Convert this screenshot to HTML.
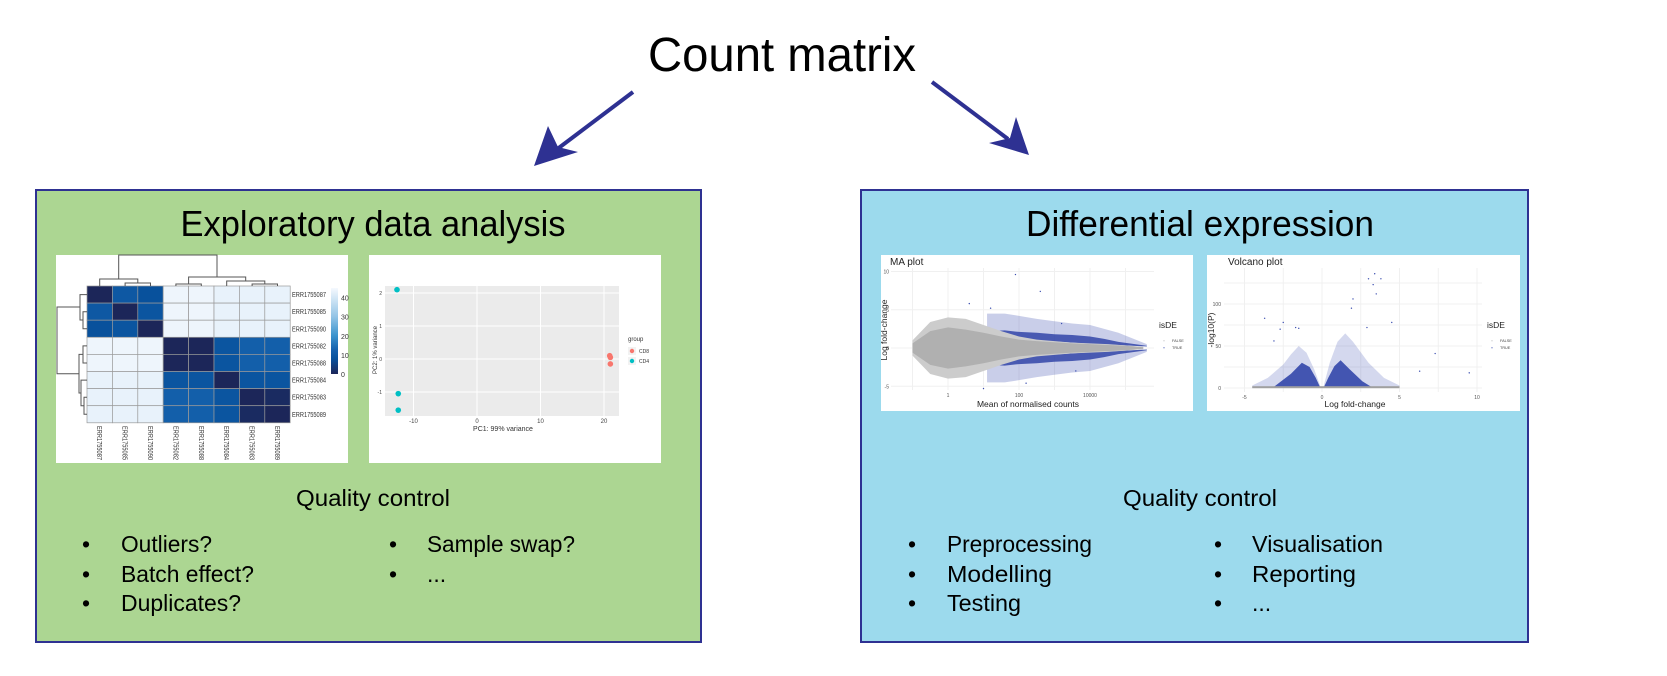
<!DOCTYPE html>
<html><head><meta charset="utf-8">
<style>
html,body{margin:0;padding:0;background:#fff;}
svg{display:block;font-family:"Liberation Sans",Arial,sans-serif;}
</style></head>
<body>
<svg id="root" width="1667" height="676" viewBox="0 0 1667 676" xmlns="http://www.w3.org/2000/svg">
  <text x="782" y="71" font-size="48" text-anchor="middle" textLength="268" lengthAdjust="spacingAndGlyphs">Count matrix</text>
  <g fill="#2e3192" stroke="#2e3192">
    <line x1="633" y1="92" x2="556" y2="150" stroke-width="4"/>
    <polygon points="534,166 548,126 558,147 578,152" stroke="none"/>
  </g>
  <g fill="#2e3192" stroke="#2e3192">
    <line x1="932" y1="82" x2="1008" y2="139" stroke-width="4"/>
    <polygon points="1029,155 989,143 1010,138 1016,117" stroke="none"/>
  </g>

  <rect x="36" y="190" width="665" height="452" fill="#acd692" stroke="#2e3192" stroke-width="2"/>
  <text x="373" y="236" font-size="36" text-anchor="middle" textLength="385" lengthAdjust="spacingAndGlyphs">Exploratory data analysis</text>
  <rect x="56" y="255" width="292" height="208" fill="#fff"/>
  <g id="heatmap"></g>
  <rect x="369" y="255" width="292" height="208" fill="#fff"/>
  <g id="pca"></g>
  <text x="373" y="506" font-size="23" text-anchor="middle" textLength="154" lengthAdjust="spacingAndGlyphs">Quality control</text>
  <g font-size="23">
    <text x="82" y="552">•</text><text x="121" y="552" textLength="91" lengthAdjust="spacingAndGlyphs">Outliers?</text>
    <text x="82" y="582">•</text><text x="121" y="582" textLength="133" lengthAdjust="spacingAndGlyphs">Batch effect?</text>
    <text x="82" y="611">•</text><text x="121" y="611" textLength="120" lengthAdjust="spacingAndGlyphs">Duplicates?</text>
    <text x="389" y="552">•</text><text x="427" y="552" textLength="148" lengthAdjust="spacingAndGlyphs">Sample swap?</text>
    <text x="389" y="582">•</text><text x="427" y="582">...</text>
  </g>

  <rect x="861" y="190" width="667" height="452" fill="#9cdaed" stroke="#2e3192" stroke-width="2"/>
  <text x="1200" y="236" font-size="36" text-anchor="middle" textLength="348" lengthAdjust="spacingAndGlyphs">Differential expression</text>
  <rect x="881" y="255" width="312" height="156" fill="#fff"/>
  <g id="ma"></g>
  <rect x="1207" y="255" width="313" height="156" fill="#fff"/>
  <g id="volcano"></g>
  <text x="1200" y="506" font-size="23" text-anchor="middle" textLength="154" lengthAdjust="spacingAndGlyphs">Quality control</text>
  <g font-size="23">
    <text x="908" y="552">•</text><text x="947" y="552" textLength="145" lengthAdjust="spacingAndGlyphs">Preprocessing</text>
    <text x="908" y="582">•</text><text x="947" y="582" textLength="105" lengthAdjust="spacingAndGlyphs">Modelling</text>
    <text x="908" y="611">•</text><text x="947" y="611" textLength="74" lengthAdjust="spacingAndGlyphs">Testing</text>
    <text x="1214" y="552">•</text><text x="1252" y="552" textLength="131" lengthAdjust="spacingAndGlyphs">Visualisation</text>
    <text x="1214" y="582">•</text><text x="1252" y="582" textLength="104" lengthAdjust="spacingAndGlyphs">Reporting</text>
    <text x="1214" y="611">•</text><text x="1252" y="611">...</text>
  </g>
</svg>
<script>
const NS = "http://www.w3.org/2000/svg";
// ---- Heatmap data ----
const hmSamples = ["ERR1755087","ERR1755085","ERR1755090","ERR1755082","ERR1755088","ERR1755084","ERR1755083","ERR1755089"];
const hmRow0 = [0,10,8,44,44,43,43,43];
const hmRow1 = [10,0,9,44,44,43,43,43];
const hmRow2 = [8,9,0,44,44,43,43,43];
const hmRow3 = [44,44,44,0,0,9,12,12];
const hmRow4 = [44,44,44,0,0,9,12,12];
const hmRow5 = [43,43,43,9,9,0,9,9];
const hmRow6 = [43,43,43,12,12,9,0,1];
const hmRow7 = [43,43,43,12,12,9,1,0];
const hmScaleTicks = [0,10,20,30,40];
// ---- PCA data ----
const pcaX = [-12.6,-12.4,-12.4,20.9,21.0,21.0];
const pcaY = [2.1,-1.05,-1.55,0.1,0.05,-0.15];
const pcaGroup = ["CD4","CD4","CD4","CD8","CD8","CD8"];
const pcaXTicks = [-10,0,10,20];
const pcaYTicks = [-1,0,1,2];
// ---- MA plot data ----
const maBins = [-1.0,-0.5,0,0.5,1.0,1.5,2.0,2.5,3.0,3.5,4.0,4.5,5.0,5.5];
const maGrayCore = [0.6,2.2,2.7,2.4,2.0,1.5,1.1,0.9,0.75,0.6,0.5,0.4,0.3,0.1];
const maGrayHalo = [1.0,3.4,4.0,3.8,3.0,2.2,1.5,1.1,0.9,0.7,0.6,0.5,0.35,0.15];
const maBlueBins = [1.1,1.6,2.0,2.5,3.0,3.5,4.0,4.4,4.8,5.6];
const maBlueInner = [1.8,1.5,1.2,1.0,0.85,0.7,0.55,0.45,0.4,0.2];
const maBlueBand = [2.2,2.3,2.1,2.0,1.8,1.7,1.5,1.2,0.8,0.3];
const maBlueOuter = [4.5,4.5,4.2,3.8,3.5,3.2,3.0,2.5,2.0,0.5];
const maOutX = [1.9,2.6,0.6,1.2,3.2,2.2,1.0,3.6];
const maOutY = [9.6,7.4,5.8,5.2,3.2,-4.6,-5.3,-3.0];
const maXTicks = [1,100,10000];
const maYTicks = [-5,0,5,10];
// ---- Volcano data ----
const vcHaloLfc = [-4.5,-3.5,-2.5,-2,-1.5,-1,-0.5,-0.1];
const vcHaloH = [3,12,28,40,50,42,22,2];
const vcCoreLfc = [-3.2,-2,-1.3,-0.8,-0.4,-0.1];
const vcCoreH = [0,17,30,25,12,0];
const vcHaloLfcR = [0.1,0.5,1,1.5,2,3,4,5];
const vcHaloHR = [2,30,55,65,55,30,12,3];
const vcCoreLfcR = [0.1,0.4,0.8,1.2,1.8,2.6,3.3];
const vcCoreHR = [0,12,26,33,22,8,0];
const vcOutX = [-3.7,-2.5,-2.7,-1.7,-1.5,-3.1,3.0,3.3,3.8,3.4,2.0,1.9,3.5,2.9,4.5,7.3,9.5,6.3];
const vcOutY = [83,78,70,72,71,56,130,123,130,136,106,95,112,72,78,41,18,20];
const vcXTicks = [-5,0,5,10];
const vcYTicks = [0,50,100];

function mk(tag, attrs, parent){
  const e = document.createElementNS(NS, tag);
  for (const k in attrs) e.setAttribute(k, attrs[k]);
  parent.appendChild(e);
  return e;
}
function lerpColor(v){
  const st=[[0,[28,38,89]],[8,[8,81,156]],[13,[22,99,174]],[20,[58,147,205]],[30,[147,196,230]],[45,[245,249,254]]];
  for(let i=1;i<st.length;i++){ if(v<=st[i][0]){const a=st[i-1],b=st[i];const t=(v-a[0])/(b[0]-a[0]);
    return "rgb("+a[1].map((c,j)=>Math.round(c+(b[1][j]-c)*t)).join(",")+")";}}
  return "rgb(245,249,254)";
}
// ---- Heatmap ----
(function(){
  const g=document.getElementById("heatmap");
  const rows=[hmRow0,hmRow1,hmRow2,hmRow3,hmRow4,hmRow5,hmRow6,hmRow7];
  const x0=87,y0=286,cw=25.4,ch=17.1;
  rows.forEach((row,i)=>row.forEach((v,j)=>{
    const r=mk("rect",{x:x0+j*cw,y:y0+i*ch,width:cw,height:ch,fill:lerpColor(v),stroke:"#9a9a9a","stroke-width":0.7},g);
    
    
  }));
  hmSamples.forEach((s,i)=>{
    const t=mk("text",{x:292,y:y0+i*ch+ch/2+2.5,"font-size":7,fill:"#333",textLength:34,lengthAdjust:"spacingAndGlyphs"},g); t.textContent=s;
    
    
    const cx=x0+i*cw+cw/2-2.5;
    const c=mk("text",{x:cx,y:426,"font-size":7,fill:"#333",textLength:34,lengthAdjust:"spacingAndGlyphs",transform:"rotate(90 "+cx+" 426)"},g); c.textContent=s;
    
    
  });
  const d="M125.1 286V283H150.5V286 M99.7 286V279H137.8V283 M175.9 286V284H201.3V286 M252.1 286V284H277.5V286 M226.7 286V281H264.8V284 M188.6 284V277H245.7V281 M118.7 279V255H217V277"
   +" M87 311.7H83V328.8H87 M83 320H80V294.6H87 M87 345.9H83V363H87 M87 397.2H84V414.3H87 M84 405.7H81V380.1H87 M83 354.4H79V393H81 M80 307H57V373.7H79";
  const p=mk("path",{d:d,fill:"none",stroke:"#555","stroke-width":1},g);
  
  
  const grad=mk("linearGradient",{id:"cb",x1:0,y1:1,x2:0,y2:0},mk("defs",{},g));
  [0,8,13,20,30,45].forEach(v=>mk("stop",{offset:v/45,"stop-color":lerpColor(v)},grad));
  const cb=mk("rect",{x:331,y:288,width:7,height:86,fill:"url(#cb)"},g);
  
  
  hmScaleTicks.forEach(v=>{
    const y=374-v/45*86;
    const t=mk("text",{x:341,y:y+3,"font-size":7,fill:"#333"},g); t.textContent=v;
    
    
  });
})();
// ---- PCA ----
(function(){
  const g=document.getElementById("pca");
  const X=v=>477+v*6.35, Y=v=>359-v*33;
  mk("rect",{x:385,y:286,width:234,height:130,fill:"#ebebeb"},g);
  pcaXTicks.forEach(v=>{mk("line",{x1:X(v),x2:X(v),y1:286,y2:416,stroke:"#fff","stroke-width":1},g);
    const t=mk("text",{x:X(v),y:423,"font-size":6,"text-anchor":"middle",fill:"#444"},g); t.textContent=v;
     });
  pcaYTicks.forEach(v=>{mk("line",{x1:385,x2:619,y1:Y(v),y2:Y(v),stroke:"#fff","stroke-width":1},g);
    const t=mk("text",{x:382,y:Y(v)+2,"font-size":5,"text-anchor":"end",fill:"#444"},g); t.textContent=v;
     });
  pcaX.forEach((v,i)=>{
    const c=mk("circle",{cx:X(v),cy:Y(pcaY[i]),r:2.8,fill:pcaGroup[i]==="CD8"?"#f8766d":"#00bfc4"},g);
    
    
  });
  let t=mk("text",{x:503,y:431,"font-size":7,"text-anchor":"middle",fill:"#333"},g); t.textContent="PC1: 99% variance";
   
  t=mk("text",{x:377,y:350,"font-size":6,"text-anchor":"middle",fill:"#333",transform:"rotate(-90 377 350)"},g); t.textContent="PC2: 1% variance";
   
  t=mk("text",{x:628,y:341,"font-size":6,fill:"#333"},g); t.textContent="group";
   
  [["CD8","#f8766d",351],["CD4","#00bfc4",361]].forEach(a=>{
    mk("rect",{x:628,y:a[2]-4,width:8,height:8,fill:"#f2f2f2"},g);
    mk("circle",{cx:632,cy:a[2],r:2.2,fill:a[1]},g);
    const l=mk("text",{x:639,y:a[2]+2,"font-size":5,fill:"#333"},g); l.textContent=a[0];
     
  });
})();
function band(X,Y,bins,outer,inner,sign){
  let d="M"+bins.map((b,i)=>X(b)+","+Y(sign*outer[i])).join(" L");
  d+=" L"+bins.map((b,i)=>X(b)+","+Y(sign*inner[i])).reverse().join(" L")+"Z";
  return d;
}
// ---- MA plot ----
(function(){
  const g=document.getElementById("ma");
  const X=v=>948+v*35.5, Y=v=>348-v*7.65;
  [-1,0,1,2,3,4,5].forEach(v=>mk("line",{x1:X(v),x2:X(v),y1:268,y2:390,stroke:"#f0f0f0"},g));
  maYTicks.forEach(v=>{mk("line",{x1:891,x2:1154,y1:Y(v),y2:Y(v),stroke:"#f0f0f0"},g);
    const t=mk("text",{x:889,y:Y(v)+2,"font-size":5,"text-anchor":"end",fill:"#555"},g); t.textContent=v;
     });
  maXTicks.forEach(v=>{const x=X(Math.log10(v));
    const t=mk("text",{x:x,y:397,"font-size":5,"text-anchor":"middle",fill:"#555"},g); t.textContent=v;
     });
  const zeros=maBins.map(()=>0);
  [1,-1].forEach(s=>{
    const p=mk("path",{d:band(X,Y,maBlueBins,maBlueOuter,maBlueInner,s),fill:"#3c4fb0","fill-opacity":0.28},g);
     
    const p2=mk("path",{d:band(X,Y,maBlueBins,maBlueBand,maBlueInner,s),fill:"#3345a8","fill-opacity":0.85},g);
     
    const h=mk("path",{d:band(X,Y,maBins,maGrayHalo,zeros,s),fill:"#cccccc"},g);
     
    const c=mk("path",{d:band(X,Y,maBins,maGrayCore,zeros,s),fill:"#b0b0b0"},g);
     
  });
  maOutX.forEach((v,i)=>{const c=mk("circle",{cx:X(v),cy:Y(maOutY[i]),r:0.7,fill:"#3c4fb0"},g);
     });
  let t=mk("text",{x:890,y:265,"font-size":10,fill:"#222"},g); t.textContent="MA plot";
   
  t=mk("text",{x:1028,y:407,"font-size":8.5,"text-anchor":"middle",fill:"#222"},g); t.textContent="Mean of normalised counts";
   
  t=mk("text",{x:887,y:330,"font-size":8.5,"text-anchor":"middle",fill:"#222",transform:"rotate(-90 887 330)"},g); t.textContent="Log fold-change";
   
  t=mk("text",{x:1159,y:328,"font-size":8.5,fill:"#222"},g); t.textContent="isDE";
   
  [["FALSE",342,"#bbb"],["TRUE",349,"#3c4fb0"]].forEach(a=>{
    mk("circle",{cx:1164,cy:a[1]-1.2,r:0.6,fill:a[2]},g);
    const l=mk("text",{x:1172,y:a[1],"font-size":3.8,fill:"#444"},g); l.textContent=a[0];
     });
})();
// ---- Volcano plot ----
(function(){
  const g=document.getElementById("volcano");
  const X=v=>1322+v*15.5, Y=v=>388-v*0.84;
  [-5,-2.5,0,2.5,5,7.5,10].forEach(v=>mk("line",{x1:X(v),x2:X(v),y1:268,y2:392,stroke:"#f0f0f0"},g));
  [0,25,50,75,100,125].forEach(v=>mk("line",{x1:1224,x2:1482,y1:Y(v),y2:Y(v),stroke:"#f0f0f0"},g));
  vcYTicks.forEach(v=>{
    const t=mk("text",{x:1221,y:Y(v)+2,"font-size":5,"text-anchor":"end",fill:"#555"},g); t.textContent=v;
     });
  vcXTicks.forEach(v=>{const t=mk("text",{x:X(v),y:399,"font-size":5,"text-anchor":"middle",fill:"#555"},g); t.textContent=v;
     });
  function area(xs,hs,fill,op,name){
    const d="M"+X(xs[0])+","+Y(0)+" L"+xs.map((v,i)=>X(v)+","+Y(hs[i])).join(" L")+" L"+X(xs[xs.length-1])+","+Y(0)+"Z";
    const p=mk("path",{d:d,fill:fill,"fill-opacity":op},g);
    
    
  }
  area(vcHaloLfc,vcHaloH,"#3c4fb0",0.22,"volcano-de-down-sparse");
  area(vcHaloLfcR,vcHaloHR,"#3c4fb0",0.22,"volcano-de-up-sparse");
  area(vcCoreLfc,vcCoreH,"#3347aa",0.9,"volcano-de-down");
  area(vcCoreLfcR,vcCoreHR,"#3347aa",0.9,"volcano-de-up");
  const b=mk("rect",{x:X(-4.5),y:Y(0)-1.8,width:X(5)-X(-4.5),height:2,fill:"#a0a0a0"},g);
   
  vcOutX.forEach((v,i)=>{const c=mk("circle",{cx:X(v),cy:Y(vcOutY[i]),r:0.7,fill:"#3c4fb0"},g);
     });
  let t=mk("text",{x:1228,y:265,"font-size":10,fill:"#222"},g); t.textContent="Volcano plot";
   
  t=mk("text",{x:1355,y:407,"font-size":8.5,"text-anchor":"middle",fill:"#222"},g); t.textContent="Log fold-change";
   
  t=mk("text",{x:1214,y:330,"font-size":8.5,"text-anchor":"middle",fill:"#222",transform:"rotate(-90 1214 330)"},g); t.textContent="-log10(P)";
   
  t=mk("text",{x:1487,y:328,"font-size":8.5,fill:"#222"},g); t.textContent="isDE";
   
  [["FALSE",342,"#bbb"],["TRUE",349,"#3c4fb0"]].forEach(a=>{
    mk("circle",{cx:1492,cy:a[1]-1.2,r:0.6,fill:a[2]},g);
    const l=mk("text",{x:1500,y:a[1],"font-size":3.8,fill:"#444"},g); l.textContent=a[0];
     });
})();
</script>
</body></html>
